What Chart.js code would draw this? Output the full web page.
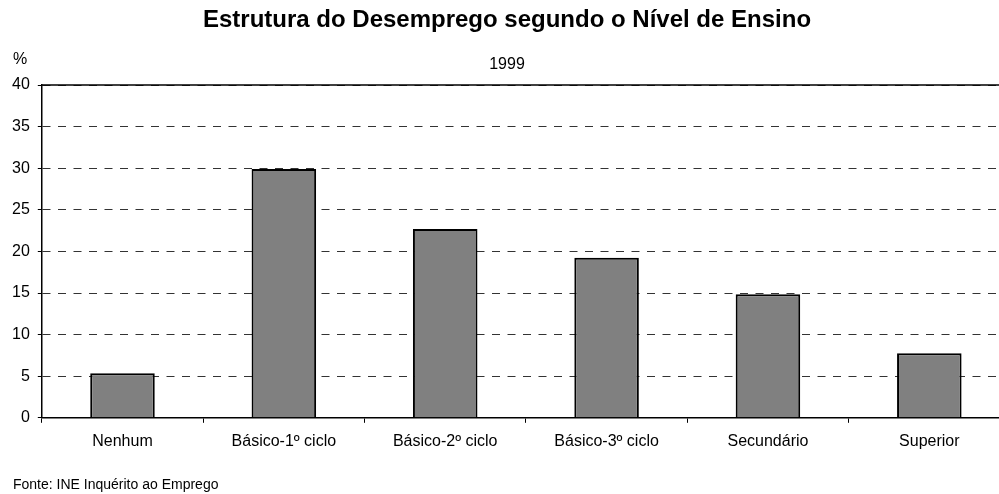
<!DOCTYPE html>
<html>
<head>
<meta charset="utf-8">
<script src="https://cdn.jsdelivr.net/npm/chart.js@4/dist/chart.umd.min.js"></script>
<style>
  html, body { margin: 0; padding: 0; overflow: hidden; background: #fff; }
  #wrap { width: 1010px; height: 494px; position: relative; }
</style>
</head>
<body>
<div id="wrap"><canvas id="chart"></canvas></div>
<script>
// data
var categories = ['Nenhum', 'Básico-1º ciclo', 'Básico-2º ciclo', 'Básico-3º ciclo', 'Secundário', 'Superior'];
var values = [5.35, 29.9, 22.7, 19.25, 14.85, 7.75];
var yTicks = [0, 5, 10, 15, 20, 25, 30, 35, 40];

var FONT = "'Liberation Sans', Arial, sans-serif";

// "%" label, source line and the solid top frame line
var extras = {
    id: 'extras',
    afterDraw: function (chart) {
        var ctx = chart.ctx;
        var area = chart.chartArea;
        ctx.save();
        ctx.strokeStyle = '#000';
        ctx.lineWidth = 1.5;
        ctx.beginPath();
        ctx.moveTo(area.left, area.top);
        ctx.lineTo(area.right, area.top);
        ctx.stroke();

        ctx.fillStyle = '#000';
        ctx.font = '16px ' + FONT;
        ctx.textAlign = 'left';
        ctx.textBaseline = 'middle';
        ctx.fillText('%', 13, 60);
        ctx.font = '14px ' + FONT;
        ctx.fillText('Fonte: INE Inquérito ao Emprego', 13, 485);
        ctx.restore();
    }
};

var config = {
    type: 'bar',
    data: {
        labels: categories,
        datasets: [{
            data: values,
            backgroundColor: '#808080',
            borderColor: '#000000',
            borderWidth: 2,
            categoryPercentage: 1,
            barPercentage: 0.4
        }]
    },
    options: {
        responsive: true,
        maintainAspectRatio: false,
        animation: false,
        layout: {
            padding: { left: 4, right: 0, top: 0, bottom: 34 }
        },
        plugins: {
            legend: { display: false },
            tooltip: { enabled: false },
            title: {
                display: true,
                text: 'Estrutura do Desemprego segundo o Nível de Ensino',
                color: '#000',
                font: { family: FONT, size: 24, weight: 'bold', lineHeight: 1 },
                padding: { top: 8, bottom: 25 }
            },
            subtitle: {
                display: true,
                text: '1999',
                color: '#000',
                font: { family: FONT, size: 16, lineHeight: 1 },
                padding: { top: 0, bottom: 12 }
            }
        },
        scales: {
            x: {
                offset: true,
                grid: {
                    display: true,
                    offset: true,
                    drawOnChartArea: false,
                    drawTicks: true,
                    tickLength: 5,
                    tickColor: '#000',
                    lineWidth: 1
                },
                border: { display: true, color: '#000', width: 1.5 },
                ticks: {
                    color: '#000',
                    padding: 9,
                    font: { family: FONT, size: 16 },
                    maxRotation: 0,
                    autoSkip: false
                }
            },
            y: {
                min: 0,
                max: 40,
                afterBuildTicks: function (axis) {
                    axis.ticks = yTicks.map(function (v) { return { value: v }; });
                },
                grid: {
                    color: '#333',
                    lineWidth: 1,
                    tickColor: '#000',
                    tickLength: 4,
                    tickBorderDash: [],
                    drawTicks: true
                },
                // in v4 border.dash dashes the grid lines, not the axis line
                border: { display: true, color: '#000', width: 1.5, dash: [8, 7.5] },
                ticks: {
                    color: '#000',
                    padding: 8,
                    font: { family: FONT, size: 16 }
                }
            }
        }
    },
    plugins: [extras]
};

var ctx = document.getElementById('chart').getContext('2d');
window.myBar = new Chart(ctx, config);
</script>
</body>
</html>
